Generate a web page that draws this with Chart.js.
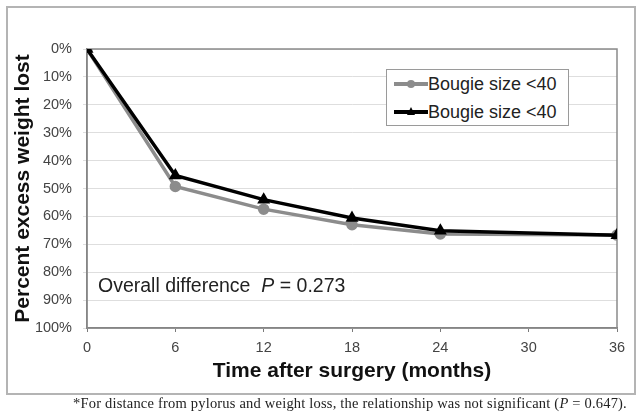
<!DOCTYPE html>
<html>
<head>
<meta charset="utf-8">
<script src="https://cdn.jsdelivr.net/npm/chart.js@4.4.1/dist/chart.umd.min.js"></script>
<style>
  html, body { margin: 0; padding: 0; background: #fff; }
  #wrap { position: relative; width: 640px; height: 414px; overflow: hidden; font-family: 'Liberation Sans', Arial, sans-serif; }
  #frame { position: absolute; left: 6px; top: 6px; width: 626px; height: 385px; border: 2px solid #b4b4b4; }
  #chart { position: absolute; left: 0; top: 0; }
  #legend { position: absolute; left: 386px; top: 69px; width: 181px; height: 55px; border: 1px solid #9a9a9a; background: #fff; }
  .item { position: absolute; left: 7px; height: 22px; font-size: 18px; line-height: 22px; color: #222; white-space: nowrap; }
  .sample { display: inline-block; position: relative; width: 34px; height: 22px; vertical-align: top; }
  .sample .ln { position: absolute; left: 0; top: 9px; width: 34px; height: 4px; }
  .sample .mk { position: absolute; }
  #note { position: absolute; left: 98px; top: 274px; font-size: 19.5px; color: #222; white-space: nowrap; }
  #foot { position: absolute; left: 73px; top: 395px; font-family: 'Liberation Serif', 'Times New Roman', serif; font-size: 14.5px; letter-spacing: 0.2px; line-height: 16px; color: #222; white-space: nowrap; }
</style>
</head>
<body>
<div id="wrap">
  <div id="frame"></div>
  <canvas id="chart" width="640" height="414"></canvas>
  <div id="legend"></div>
  <div id="note">Overall difference&nbsp; <i>P</i> = 0.273</div>
  <div id="foot">*For distance from pylorus and weight loss, the relationship was not significant (<i>P</i> = 0.647).</div>
</div>
<script>
'use strict';

/* ── Data ───────────────────────────────────────────────────────── */
const months      = [0, 6, 12, 18, 24, 36];
const xTicks      = [0, 6, 12, 18, 24, 30, 36];
const seriesNames = ['Bougie size <40', 'Bougie size <40'];
const grayValues  = [0, 49.3, 57.4, 63.0, 66.3, 66.7];
const blackValues = [0, 45.3, 54.0, 60.6, 65.1, 66.8];

const toPoints = vals => months.map((m, i) => ({ x: m, y: vals[i] }));

/* ── Legend (HTML, inside plot) ─────────────────────────────────── */
(function buildLegend() {
  const legend = document.getElementById('legend');
  const styles = [
    { color: '#8c8c8c', marker: 'circle' },
    { color: '#000',    marker: 'triangle' },
  ];
  seriesNames.forEach((name, i) => {
    const st = styles[i];
    const item = document.createElement('div');
    item.className = 'item';
    item.style.top = (3 + i * 28) + 'px';
    const mk = st.marker === 'circle'
      ? `<span class="mk" style="left:13px;top:7px;width:8px;height:8px;border-radius:50%;background:${st.color}"></span>`
      : `<span class="mk" style="left:13px;top:6px;width:0;height:0;border-left:4px solid transparent;border-right:4px solid transparent;border-bottom:8px solid ${st.color}"></span>`;
    item.innerHTML = `<span class="sample"><span class="ln" style="background:${st.color}"></span>${mk}</span>`;
    item.appendChild(document.createTextNode(name));
    legend.appendChild(item);
  });
}());

/* ── Plot-area border ───────────────────────────────────────────── */
const areaBorder = {
  id: 'areaBorder',
  beforeDatasetsDraw(chart) {
    const { ctx, chartArea: a } = chart;
    ctx.save();
    ctx.strokeStyle = '#8a8a8a';
    ctx.lineWidth = 1.5;
    ctx.strokeRect(a.left, a.top, a.right - a.left, a.bottom - a.top);
    ctx.restore();
  },
};

Chart.defaults.font.family = "'Liberation Sans', Arial, sans-serif";
Chart.defaults.animation = false;

new Chart(document.getElementById('chart'), {
  type: 'line',
  data: {
    datasets: [
      {
        label: seriesNames[1],
        data: toPoints(blackValues),
        borderColor: '#000',
        backgroundColor: '#000',
        borderWidth: 3.5,
        pointStyle: 'triangle',
        pointRadius: 4,
        tension: 0,
        order: 0,
      },
      {
        label: seriesNames[0],
        data: toPoints(grayValues),
        borderColor: '#8c8c8c',
        backgroundColor: '#8c8c8c',
        borderWidth: 3.5,
        pointStyle: 'circle',
        pointRadius: 4,
        tension: 0,
        order: 1,
      },
    ],
  },
  options: {
    responsive: false,
    layout: { padding: { left: 8, right: 23, top: 49, bottom: 26 } },
    plugins: { legend: { display: false }, tooltip: { enabled: false } },
    scales: {
      x: {
        type: 'linear',
        min: 0,
        max: 36,
        afterFit: s => { s.height = 60; },
        afterBuildTicks: s => { s.ticks = xTicks.map(v => ({ value: v })); },
        border: { color: '#7a7a7a', width: 1.5 },
        grid: { drawOnChartArea: false, tickLength: 4, color: '#7a7a7a' },
        ticks: { padding: 7, color: '#444', font: { size: 14.5 } },
        title: {
          display: true,
          text: 'Time after surgery (months)',
          color: '#111',
          font: { size: 21, weight: 'bold' },
          padding: { top: 0, bottom: 4 },
        },
      },
      y: {
        reverse: true,
        min: 0,
        max: 100,
        afterFit: s => { s.width = 79; },
        border: { color: '#7a7a7a', width: 1.5 },
        grid: { color: '#dedede', tickLength: 4 },
        ticks: { stepSize: 10, padding: 11, color: '#444', font: { size: 14.5 }, callback: v => v + '%' },
        title: {
          display: true,
          text: 'Percent excess weight lost',
          color: '#111',
          font: { size: 21, weight: 'bold' },
          padding: { top: 3, bottom: 0 },
        },
      },
    },
  },
  plugins: [areaBorder],
});
</script>
</body>
</html>
